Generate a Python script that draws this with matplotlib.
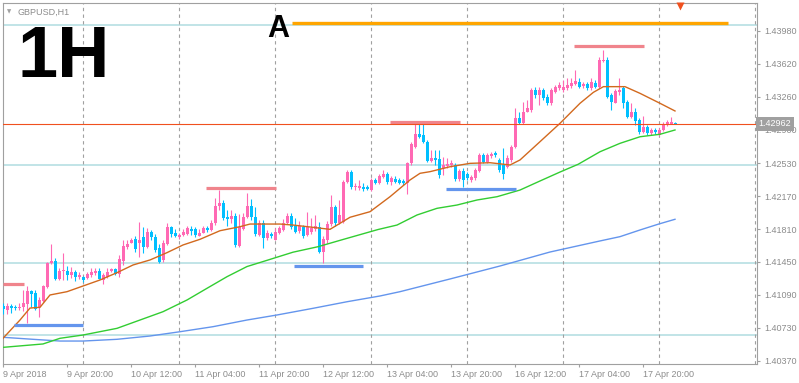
import matplotlib
matplotlib.use("Agg")
import matplotlib.pyplot as plt
import matplotlib.transforms as mtransforms
import numpy as np

# GBPUSD H1 candles, 9 Apr 2018 04:00 .. 18 Apr 2018 04:00
opens = [
    1.40968, 1.40925, 1.40968, 1.40957, 1.40946, 1.40957, 1.40990, 1.41132, 1.41110, 1.40957,
    1.41023, 1.41176, 1.41439, 1.41461, 1.41264, 1.41351, 1.41351, 1.41308, 1.41340, 1.41286,
    1.41286, 1.41275, 1.41308, 1.41329, 1.41351, 1.41253, 1.41286, 1.41351, 1.41373, 1.41319,
    1.41461, 1.41614, 1.41658, 1.41701, 1.41658, 1.41723, 1.41614, 1.41778, 1.41723, 1.41603,
    1.41472, 1.41647, 1.41833, 1.41767, 1.41723, 1.41745, 1.41756, 1.41811, 1.41811, 1.41734,
    1.41767, 1.41822, 1.41800, 1.41876, 1.42062, 1.42095, 1.41942, 1.41920, 1.41953, 1.41625,
    1.41811, 1.41942, 1.42062, 1.41942, 1.41745, 1.41876, 1.41712, 1.41756, 1.41690, 1.41767,
    1.41800, 1.41876, 1.41953, 1.41844, 1.41789, 1.41833, 1.41745, 1.41778, 1.41811, 1.41833,
    1.41559, 1.41690, 1.41866, 1.42051, 1.41876, 1.41887, 1.42325, 1.42434, 1.42270, 1.42259,
    1.42270, 1.42270, 1.42237, 1.42347, 1.42314, 1.42380, 1.42412, 1.42325, 1.42358, 1.42347,
    1.42336, 1.42314, 1.42533, 1.42708, 1.42850, 1.42839, 1.42763, 1.42555, 1.42588, 1.42577,
    1.42478, 1.42500, 1.42511, 1.42511, 1.42358, 1.42445, 1.42412, 1.42347, 1.42369, 1.42445,
    1.42620, 1.42544, 1.42609, 1.42642, 1.42566, 1.42511, 1.42489, 1.42566, 1.42708, 1.43025,
    1.42970, 1.43091, 1.43113, 1.43331, 1.43277, 1.43331, 1.43255, 1.43189, 1.43309, 1.43353,
    1.43331, 1.43353, 1.43375, 1.43397, 1.43419, 1.43375, 1.43397, 1.43353, 1.43408, 1.43364,
    1.43649, 1.43660, 1.43277, 1.43189, 1.43309, 1.43353, 1.43200, 1.43036, 1.43091, 1.43003,
    1.42872, 1.42927, 1.42861, 1.42894, 1.42839, 1.42894, 1.42949, 1.42960, 1.42970,
]
highs = [
    1.41001, 1.41001, 1.40990, 1.40979, 1.41001, 1.41143, 1.41187, 1.41143, 1.41143, 1.41067,
    1.41198, 1.41450, 1.41647, 1.41494, 1.41384, 1.41548, 1.41406, 1.41395, 1.41362, 1.41340,
    1.41297, 1.41340, 1.41384, 1.41384, 1.41384, 1.41329, 1.41384, 1.41384, 1.41384, 1.41526,
    1.41690, 1.41690, 1.41712, 1.41734, 1.41887, 1.41833, 1.41822, 1.41800, 1.41756, 1.41647,
    1.41690, 1.41876, 1.41844, 1.41811, 1.41767, 1.41811, 1.41844, 1.41844, 1.41833, 1.41811,
    1.41844, 1.41844, 1.41909, 1.42150, 1.42237, 1.42128, 1.42019, 1.42019, 1.41986, 1.41975,
    1.41986, 1.42205, 1.42139, 1.42051, 1.41909, 1.41909, 1.41800, 1.41778, 1.41822, 1.41844,
    1.41920, 1.41986, 1.41986, 1.41931, 1.41898, 1.41855, 1.41997, 1.41931, 1.41964, 1.41887,
    1.41734, 1.41898, 1.42183, 1.42073, 1.42128, 1.42347, 1.42456, 1.42456, 1.42314, 1.42347,
    1.42314, 1.42292, 1.42369, 1.42369, 1.42412, 1.42456, 1.42434, 1.42391, 1.42391, 1.42369,
    1.42358, 1.42544, 1.42763, 1.42981, 1.42981, 1.42970, 1.42784, 1.42675, 1.42675, 1.42675,
    1.42598, 1.42588, 1.42566, 1.42533, 1.42467, 1.42478, 1.42434, 1.42402, 1.42478, 1.42642,
    1.42642, 1.42642, 1.42653, 1.42664, 1.42588, 1.42697, 1.42620, 1.42730, 1.43134, 1.43091,
    1.43200, 1.43222, 1.43353, 1.43364, 1.43364, 1.43353, 1.43288, 1.43353, 1.43386, 1.43419,
    1.43441, 1.43463, 1.43463, 1.43550, 1.43463, 1.43419, 1.43419, 1.43463, 1.43441, 1.43692,
    1.43769, 1.43692, 1.43299, 1.43342, 1.43463, 1.43375, 1.43222, 1.43189, 1.43134, 1.43025,
    1.43047, 1.42949, 1.42916, 1.42916, 1.42916, 1.42981, 1.43003, 1.43036, 1.42981,
]
lows = [
    1.40881, 1.40881, 1.40892, 1.40925, 1.40925, 1.40914, 1.40782, 1.40957, 1.40925, 1.40848,
    1.41012, 1.41165, 1.41428, 1.41253, 1.41253, 1.41253, 1.41253, 1.41275, 1.41242, 1.41264,
    1.41231, 1.41264, 1.41286, 1.41308, 1.41264, 1.41209, 1.41275, 1.41340, 1.41308, 1.41286,
    1.41417, 1.41592, 1.41658, 1.41559, 1.41504, 1.41548, 1.41603, 1.41690, 1.41559, 1.41439,
    1.41450, 1.41636, 1.41723, 1.41723, 1.41701, 1.41734, 1.41745, 1.41745, 1.41723, 1.41734,
    1.41767, 1.41778, 1.41789, 1.41855, 1.42019, 1.41909, 1.41844, 1.41876, 1.41614, 1.41614,
    1.41800, 1.41931, 1.41909, 1.41734, 1.41734, 1.41603, 1.41690, 1.41712, 1.41690, 1.41756,
    1.41789, 1.41866, 1.41811, 1.41767, 1.41767, 1.41712, 1.41734, 1.41756, 1.41789, 1.41548,
    1.41439, 1.41658, 1.41844, 1.41844, 1.41866, 1.41876, 1.42314, 1.42248, 1.42237, 1.42237,
    1.42226, 1.42237, 1.42226, 1.42303, 1.42303, 1.42369, 1.42303, 1.42292, 1.42314, 1.42303,
    1.42292, 1.42194, 1.42511, 1.42697, 1.42806, 1.42752, 1.42544, 1.42544, 1.42511, 1.42369,
    1.42402, 1.42478, 1.42489, 1.42336, 1.42336, 1.42270, 1.42347, 1.42325, 1.42347, 1.42434,
    1.42533, 1.42533, 1.42588, 1.42598, 1.42434, 1.42358, 1.42478, 1.42544, 1.42697, 1.42960,
    1.42960, 1.43091, 1.43091, 1.43244, 1.43167, 1.43222, 1.43167, 1.43167, 1.43299, 1.43331,
    1.43309, 1.43331, 1.43353, 1.43386, 1.43353, 1.43353, 1.43331, 1.43331, 1.43353, 1.43353,
    1.43638, 1.43244, 1.43113, 1.43189, 1.43277, 1.43134, 1.43025, 1.43025, 1.42949, 1.42850,
    1.42861, 1.42839, 1.42839, 1.42850, 1.42828, 1.42883, 1.42938, 1.42960, 1.42960,
]
closes = [
    1.40935, 1.40968, 1.40946, 1.40946, 1.40957, 1.41001, 1.41132, 1.41099, 1.40935, 1.41034,
    1.41187, 1.41439, 1.41461, 1.41264, 1.41351, 1.41362, 1.41308, 1.41340, 1.41286, 1.41308,
    1.41253, 1.41319, 1.41340, 1.41351, 1.41264, 1.41308, 1.41340, 1.41373, 1.41319, 1.41483,
    1.41625, 1.41647, 1.41690, 1.41592, 1.41690, 1.41614, 1.41778, 1.41723, 1.41581, 1.41450,
    1.41658, 1.41833, 1.41756, 1.41734, 1.41745, 1.41778, 1.41822, 1.41789, 1.41745, 1.41767,
    1.41822, 1.41800, 1.41876, 1.42062, 1.42095, 1.41931, 1.41920, 1.41953, 1.41636, 1.41833,
    1.41942, 1.42062, 1.41942, 1.41756, 1.41876, 1.41712, 1.41767, 1.41734, 1.41778, 1.41822,
    1.41876, 1.41953, 1.41833, 1.41778, 1.41844, 1.41734, 1.41833, 1.41822, 1.41844, 1.41559,
    1.41701, 1.41866, 1.42051, 1.41876, 1.41964, 1.42325, 1.42434, 1.42270, 1.42281, 1.42281,
    1.42248, 1.42248, 1.42347, 1.42314, 1.42391, 1.42412, 1.42325, 1.42369, 1.42325, 1.42314,
    1.42314, 1.42533, 1.42741, 1.42850, 1.42817, 1.42763, 1.42555, 1.42588, 1.42566, 1.42402,
    1.42511, 1.42522, 1.42533, 1.42358, 1.42445, 1.42347, 1.42369, 1.42380, 1.42456, 1.42620,
    1.42544, 1.42620, 1.42631, 1.42620, 1.42456, 1.42412, 1.42588, 1.42708, 1.43025, 1.42970,
    1.43091, 1.43134, 1.43331, 1.43277, 1.43331, 1.43244, 1.43189, 1.43331, 1.43364, 1.43386,
    1.43364, 1.43386, 1.43408, 1.43430, 1.43364, 1.43397, 1.43353, 1.43419, 1.43364, 1.43660,
    1.43660, 1.43255, 1.43200, 1.43320, 1.43331, 1.43189, 1.43036, 1.43091, 1.42992, 1.42872,
    1.42927, 1.42861, 1.42894, 1.42872, 1.42894, 1.42949, 1.42981, 1.42981, 1.42962,
]

# moving averages, read at a few bars
ma_fast_bars = [0, 4.25, 6.75, 9.25, 11.75, 16, 20, 24.25, 28.5, 32.5, 36.75, 41, 45, 49.25,
                54.25, 59.25, 61.75, 69.25, 72.5, 77.5, 81.75, 86.75, 91.75, 96.75, 101.75,
                104.25, 106.75, 111.75, 116.75, 121.75, 126.75, 129.25, 134.25, 139.25,
                144.25, 147.6, 150.1, 155.5, 159.25, 164.25, 168]
ma_fast = [1.40615, 1.40815, 1.40946, 1.40954, 1.41089, 1.41125, 1.41187, 1.41253, 1.41333,
           1.41417, 1.41472, 1.41552, 1.41636, 1.41698, 1.41792, 1.41836, 1.41865, 1.41865,
           1.41854, 1.41829, 1.41807, 1.41939, 1.42000, 1.42164, 1.42347, 1.42420, 1.42438,
           1.42492, 1.42529, 1.42536, 1.42511, 1.42566, 1.42766, 1.42967, 1.43186, 1.43306,
           1.43368, 1.43368, 1.43295, 1.43186, 1.43102]

ma_mid_bars = [0, 10, 14.25, 20, 28.5, 34.25, 40, 46, 51, 56, 61, 66, 72.5, 78.75, 85, 93.75,
               98.5, 103.5, 108.5, 113.5, 118.5, 123.5, 129.25, 134.25, 139.25, 143.8, 149.25,
               154.25, 159.25, 164.25, 168]
ma_mid = [1.40516, 1.40553, 1.40615, 1.40651, 1.40724, 1.40815, 1.40906, 1.41034, 1.41162,
          1.41289, 1.41400, 1.41468, 1.41557, 1.41617, 1.41696, 1.41805, 1.41854, 1.41964,
          1.42037, 1.42073, 1.42128, 1.42164, 1.42237, 1.42336, 1.42434, 1.42519, 1.42656,
          1.42748, 1.42820, 1.42847, 1.42894]

ma_slow_bars = [0, 7.5, 14.25, 20, 28.5, 36.75, 44.25, 52.5, 61, 68.5, 77.5, 86, 94.25, 99.25,
                111.75, 124.25, 136.75, 149.25, 154.25, 159.25, 164, 168]
ma_slow = [1.40626, 1.40604, 1.40585, 1.40585, 1.40604, 1.40640, 1.40687, 1.40742, 1.40815,
           1.40870, 1.40943, 1.41015, 1.41078, 1.41125, 1.41264, 1.41406, 1.41559, 1.41680,
           1.41727, 1.41800, 1.41866, 1.41917]

# horizontal levels
levels = [1.44043, 1.42511, 1.41436, 1.40648]
res_levels = [1.41209, 1.42263, 1.42979, 1.43813]
res_from = [-0.1, 50.75, 96.75, 142.75]
res_to = [5.25, 68.25, 114.25, 160.25]
sup_levels = [1.40758, 1.41409, 1.42248]
sup_from = [2.75, 72.75, 110.75]
sup_to = [20, 90, 128.25]
target_level = 1.44061
target_from, target_to = 72.25, 181.25
bid = 1.42962

price_ticks = [1.43980, 1.43620, 1.43260, 1.42900, 1.42530, 1.42170, 1.41810,
               1.41450, 1.41090, 1.40730, 1.40370]
time_tick_bars = [0, 16, 32, 48, 64, 80, 96, 112, 128, 144, 160]
time_labels = ["9 Apr 2018", "9 Apr 20:00", "10 Apr 12:00", "11 Apr 04:00",
               "11 Apr 20:00", "12 Apr 12:00", "13 Apr 04:00", "13 Apr 20:00",
               "16 Apr 12:00", "17 Apr 04:00", "17 Apr 20:00"]
day_breaks = [20, 44, 68, 92, 116, 140, 164, 188]

PINK = "#FF69B4"
CYAN = "#00BFFF"
GRAY = "#A0A0A0"
TXT = "#8C8C8C"

W, H = 799, 383
fig = plt.figure(figsize=(W / 100, H / 100), dpi=100)
ax = fig.add_axes([2.5 / W, (H - 363.5) / H, 754 / W, 361 / H])
ax.set_xlim(-0.125, 188.375)
ax.set_ylim(1.403393, 1.442887)

o = np.array(opens)
c = np.array(closes)
x = np.arange(len(o))
col = np.where(c >= o, PINK, CYAN)

# levels and day separators behind the candles
for lv in levels:
    ax.axhline(lv, color="#B0DCE0", lw=1.1, zorder=1)
for b in day_breaks:
    ax.axvline(b, color=GRAY, lw=0.8, ls=(0, (3, 3)), zorder=1)

ax.vlines(x, lows, highs, colors=col, lw=0.8, zorder=3)
body = np.maximum(np.abs(c - o), 0.00012)
ax.bar(x, body, bottom=np.minimum(o, c), width=0.75, color=col, lw=0, zorder=4)

ax.plot(ma_slow_bars, ma_slow, color="#6495ED", lw=1.0, zorder=5)
ax.plot(ma_mid_bars, ma_mid, color="#32CD32", lw=1.0, zorder=5)
ax.plot(ma_fast_bars, ma_fast, color="#D2691E", lw=1.0, zorder=5)

for lv, a, b in zip(res_levels, res_from, res_to):
    ax.plot([a, b], [lv, lv], color="#F0848C", lw=2.3, solid_capstyle="butt", zorder=6)
for lv, a, b in zip(sup_levels, sup_from, sup_to):
    ax.plot([a, b], [lv, lv], color="#6495ED", lw=2.3, solid_capstyle="butt", zorder=6)
ax.plot([target_from, target_to], [target_level, target_level], color="#FFA500",
        lw=2.4, solid_capstyle="butt", zorder=6)
ax.text(66.0, 1.43911, "A", fontsize=22, fontweight="bold", family="Liberation Sans",
        ha="left", va="baseline", color="black", zorder=7)

ax.axhline(bid, color="#F0501E", lw=0.8, zorder=6)

# chart shift marker
trans = mtransforms.blended_transform_factory(ax.transData, ax.transAxes)
ax.plot([169.25], [0.99], marker="v", ms=6, color="#F0501E", mec="none",
        transform=trans, clip_on=False, zorder=8)

# axes cosmetics
for s in ax.spines.values():
    s.set_color(GRAY)
    s.set_linewidth(0.8)
ax.yaxis.tick_right()
ax.set_yticks(price_ticks)
ax.set_yticklabels([f"{p:.5f}" for p in price_ticks])
ax.set_xticks(time_tick_bars)
ax.set_xticklabels(time_labels, ha="left")
ax.tick_params(axis="both", colors=GRAY, labelcolor=TXT, length=2.5, width=0.8,
               labelsize=6.5)
ax.tick_params(axis="y", pad=3)
ax.tick_params(axis="x", pad=2)
for t in ax.get_xticklabels() + ax.get_yticklabels():
    t.set_family("Liberation Sans")

ax.text(1.003, bid, f"{bid:.5f}",
        transform=mtransforms.blended_transform_factory(ax.transAxes, ax.transData),
        ha="left", va="center", fontsize=6.5, family="Liberation Sans", color="white",
        bbox=dict(boxstyle="square,pad=0.3", fc=GRAY, ec="none"), zorder=10, clip_on=False)

# header texts
fig.text(7 / W, (H - 12) / H, "\u25bc", fontsize=4, color=GRAY, family="DejaVu Sans",
         va="center", ha="left")
fig.text(17 / W, (H - 14.5) / H, "GBPUSD,H1", fontsize=6.5, color=TXT,
         family="Liberation Sans", va="baseline", ha="left")
fig.text(18 / W, (H - 76.7) / H, "1H", fontsize=52, fontweight="bold",
         family="Liberation Sans", color="black", va="baseline", ha="left")

fig.savefig("out.png", dpi=100, facecolor="white")
